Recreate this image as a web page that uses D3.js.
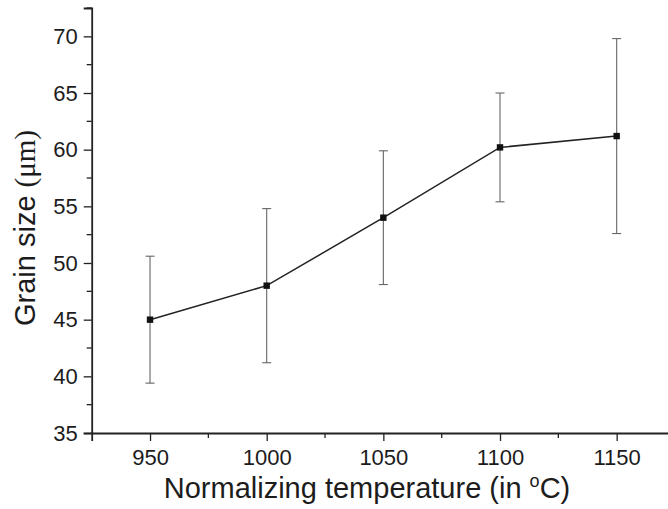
<!DOCTYPE html>
<html>
<head>
<meta charset="utf-8">
<script src="https://cdn.jsdelivr.net/npm/d3@7"></script>
<style>
  html, body { margin: 0; padding: 0; background: #fff; }
  svg { display: block; }
  text { fill: #1c1c1c; }
</style>
</head>
<body>
<svg id="chart" width="668" height="509"></svg>
<script>
// Normalizing temperature (°C) and mean grain size (µm) with error limits
const temperatures = [950, 1000, 1050, 1100, 1150];
const grainSize    = [45.0, 48.0, 54.0, 60.2, 61.2];
const errLow       = [39.4, 41.2, 48.1, 55.4, 52.6];
const errHigh      = [50.6, 54.8, 59.9, 65.0, 69.8];

const xMajorTicks = [950, 1000, 1050, 1100, 1150];
const xMinorTicks = [975, 1025, 1075, 1125, 1175];
const yMajorTicks = [35, 40, 45, 50, 55, 60, 65, 70];
const yMinorTicks = [37.5, 42.5, 47.5, 52.5, 57.5, 62.5, 67.5, 72.5];

const svg = d3.select("#chart");
const fontSans = "'Liberation Sans', Arial, sans-serif";

const x = d3.scaleLinear().domain([925, 1175]).range([91.7, 675]);
const y = d3.scaleLinear().domain([35, 72.5]).range([433, 8]);

const axisColor = "#222";

// Bottom axis: major ticks with labels, minor ticks without
const xAxisG = svg.append("g").attr("transform", `translate(0,${y(35)})`);
xAxisG.call(d3.axisBottom(x).tickValues(xMajorTicks).tickSize(8).tickPadding(8).tickFormat(d3.format("d")));
xAxisG.call(g => g.selectAll(".tick text").attr("font-size", 22).attr("font-family", fontSans).attr("fill", "#1c1c1c"));
xAxisG.append("g").selectAll("line").data(xMinorTicks).join("line")
  .attr("x1", d => x(d)).attr("x2", d => x(d)).attr("y1", 0).attr("y2", 5)
  .attr("stroke", axisColor).attr("stroke-width", 1.3);

// Left axis
const yAxisG = svg.append("g").attr("transform", `translate(${x(925)},0)`);
yAxisG.call(d3.axisLeft(y).tickValues(yMajorTicks).tickSize(8).tickPadding(6).tickFormat(d3.format("d")));
yAxisG.call(g => g.selectAll(".tick text").attr("font-size", 22).attr("font-family", fontSans).attr("fill", "#1c1c1c"));
yAxisG.append("g").selectAll("line").data(yMinorTicks).join("line")
  .attr("y1", d => y(d)).attr("y2", d => y(d)).attr("x1", 0).attr("x2", -5)
  .attr("stroke", axisColor).attr("stroke-width", 1.3);

[xAxisG, yAxisG].forEach(g => {
  g.select(".domain").attr("stroke", axisColor).attr("stroke-width", 1.8);
  g.selectAll(".tick line").attr("stroke", axisColor).attr("stroke-width", 1.3);
});

// Data rows
const rows = temperatures.map((t, i) => ({ t, v: grainSize[i], lo: errLow[i], hi: errHigh[i] }));

// Error bars
const eb = svg.append("g").attr("stroke", "#666").attr("stroke-width", 1.1);
eb.selectAll("line.stem").data(rows).join("line").attr("class", "stem")
  .attr("x1", d => x(d.t)).attr("x2", d => x(d.t))
  .attr("y1", d => y(d.lo)).attr("y2", d => y(d.hi));
eb.selectAll("line.capHi").data(rows).join("line").attr("class", "capHi")
  .attr("x1", d => x(d.t) - 4.5).attr("x2", d => x(d.t) + 4.5)
  .attr("y1", d => y(d.hi)).attr("y2", d => y(d.hi));
eb.selectAll("line.capLo").data(rows).join("line").attr("class", "capLo")
  .attr("x1", d => x(d.t) - 4.5).attr("x2", d => x(d.t) + 4.5)
  .attr("y1", d => y(d.lo)).attr("y2", d => y(d.lo));

// Connecting line
svg.append("path").datum(rows)
  .attr("fill", "none").attr("stroke", "#222").attr("stroke-width", 1.5)
  .attr("d", d3.line().x(d => x(d.t)).y(d => y(d.v)));

// Square markers
svg.append("g").selectAll("rect").data(rows).join("rect")
  .attr("x", d => x(d.t) - 3.2).attr("y", d => y(d.v) - 3.2)
  .attr("width", 6.4).attr("height", 6.4).attr("fill", "#111");

// Axis titles
const xTitle = svg.append("text")
  .attr("x", 367).attr("y", 498).attr("text-anchor", "middle")
  .attr("font-family", fontSans).attr("font-size", 29);
xTitle.append("tspan").text("Normalizing temperature (in ");
xTitle.append("tspan").attr("font-size", 18).attr("dy", -11).text("o");
xTitle.append("tspan").attr("dy", 11).text("C)");

const yTitle = svg.append("text")
  .attr("transform", "translate(35,228) rotate(-90)")
  .attr("text-anchor", "middle")
  .attr("font-family", fontSans).attr("font-size", 29);
yTitle.append("tspan").text("Grain size ");
yTitle.append("tspan").attr("font-family", "'Liberation Serif', 'Times New Roman', serif").text("(μm)");
</script>
</body>
</html>
